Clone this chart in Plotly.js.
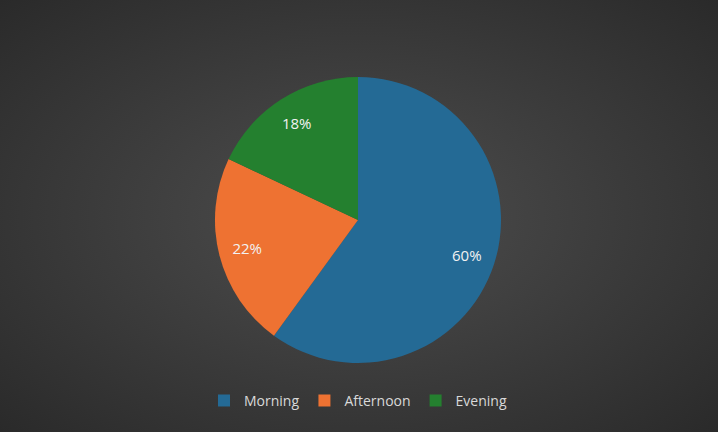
<!DOCTYPE html>
<html><head><meta charset="utf-8">
<script src="https://cdn.plot.ly/plotly-3.0.1.min.js"></script>
<style>
html,body{margin:0;padding:0;}
body{width:718px;height:432px;overflow:hidden;background:radial-gradient(ellipse at 50% 50%, #4e4e4e 0%, #3c3c3c 50%, #2a2a2a 100%);}
#chart{width:718px;height:432px;}
</style></head>
<body><div id="chart"></div>
<script>
const labels = ["Morning", "Afternoon", "Evening"];
const values = [60, 22, 18];
const colors = ["#246a95", "#ee7232", "#24802f"];

const dom = {x: [0.2994, 0.6978], y: [0.1597, 0.8218]};
Plotly.newPlot('chart', [{
  type: 'pie',
  labels: labels,
  values: values,
  sort: false,
  direction: 'clockwise',
  rotation: 0,
  marker: {colors: colors, line: {width: 0}},
  textinfo: 'none',
  hoverinfo: 'none',
  domain: dom
}, {
  type: 'pie',
  labels: labels,
  values: values,
  sort: false,
  direction: 'clockwise',
  rotation: 0,
  hole: 0.6,
  showlegend: false,
  marker: {colors: ['rgba(0,0,0,0)','rgba(0,0,0,0)','rgba(0,0,0,0)'], line: {width: 0}},
  texttemplate: '%{percent:.0%}',
  textposition: 'inside',
  insidetextorientation: 'horizontal',
  textfont: {color: '#f2f2f2', size: 15, family: 'Open Sans, sans-serif'},
  hoverinfo: 'none',
  domain: dom
}], {
  width: 718, height: 432,
  margin: {l: 0, r: 0, t: 0, b: 0},
  paper_bgcolor: 'rgba(0,0,0,0)',
  plot_bgcolor: 'rgba(0,0,0,0)',
  showlegend: true,
  legend: {
    orientation: 'h', x: 0.4986, xanchor: 'center', y: 0.072, yanchor: 'middle',
    font: {color: '#d9d9d9', size: 14, family: 'Open Sans, sans-serif'},
    bgcolor: 'rgba(0,0,0,0)', itemwidth: 30, traceorder: 'normal'
  }
}, {displayModeBar: false, staticPlot: true});
</script></body></html>
